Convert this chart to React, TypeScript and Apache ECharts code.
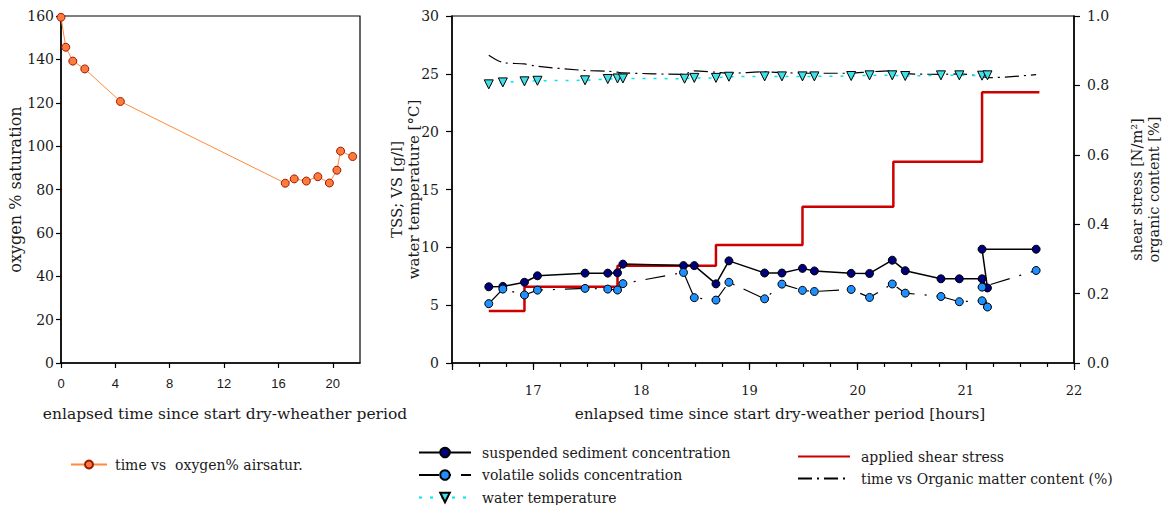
import React, { useEffect, useRef } from "react";
import * as echarts from "echarts";

// Oxygen saturation during the dry-weather period
const oxygenHours = [0, 0.35, 0.87, 1.75, 4.37, 16.5, 17.16, 18.05, 18.9, 19.75, 20.3, 20.57, 21.46];
const oxygenSaturation = [159.4, 145.6, 139.2, 135.6, 120.6, 82.9, 84.9, 83.9, 85.9, 83.0, 88.9, 97.7, 95.2];

// Erosion test samples (hours since start of dry-weather period)
const sampleHours = [
  16.59, 16.72, 16.92, 17.04, 17.48, 17.69, 17.78, 17.83, 18.39, 18.49, 18.69, 18.81, 19.14,
  19.3, 19.49, 19.6, 19.94, 20.11, 20.32, 20.44, 20.77, 20.94, 21.15, 21.2, 21.15, 21.65,
];
const tssValues = [
  6.59, 6.62, 6.98, 7.54, 7.77, 7.77, 7.8, 8.55, 8.42, 8.42, 6.84, 8.83, 7.78, 7.78, 8.18,
  7.96, 7.75, 7.74, 8.89, 7.98, 7.28, 7.28, 7.28, 6.49, 9.84, 9.84,
];
const vsValues = [
  5.13, 6.39, 5.88, 6.3, 6.45, 6.39, 6.31, 6.86, 7.83, 5.65, 5.44, 6.98, 5.55, 6.82, 6.28,
  6.18, 6.36, 5.67, 6.83, 6.04, 5.75, 5.3, 5.38, 4.84, 6.56, 8.0,
];

const temperatureHours = [
  16.59, 16.72, 16.92, 17.04, 17.48, 17.69, 17.78, 17.83, 18.4, 18.49, 18.69, 18.81, 19.14,
  19.3, 19.49, 19.6, 19.94, 20.11, 20.32, 20.44, 20.77, 20.94, 21.15, 21.2,
];
const temperatureValues = [
  24.09, 24.26, 24.35, 24.4, 24.44, 24.55, 24.6, 24.6, 24.58, 24.65, 24.65, 24.75, 24.78,
  24.78, 24.78, 24.78, 24.81, 24.87, 24.87, 24.81, 24.87, 24.87, 24.84, 24.87,
];

// Applied bed shear stress steps [N/m2]
const shearHours = [16.59, 16.92, 17.78, 18.69, 19.49, 20.33, 21.15, 21.68];
const shearValues = [0.15, 0.22, 0.28, 0.34, 0.45, 0.58, 0.78, 0.78];

// Organic matter content (fraction)
const organicHours = [
  16.59, 16.72, 16.92, 17.04, 17.48, 17.69, 17.78, 17.83, 18.39, 18.49, 18.69, 18.81, 19.14,
  19.3, 19.49, 19.6, 19.94, 20.11, 20.32, 20.44, 20.77, 20.94, 21.15, 21.2, 21.65,
];
const organicValues = [
  0.887, 0.866, 0.862, 0.855, 0.843, 0.841, 0.838, 0.836, 0.832, 0.842, 0.838, 0.835, 0.839,
  0.837, 0.835, 0.835, 0.835, 0.839, 0.842, 0.834, 0.832, 0.833, 0.826, 0.822, 0.831,
];

const SERIF = "DejaVu Serif";
const INK = "#1a1a1a";

const zip = (xs: number[], ys: number[]) => xs.map((x, i) => [x, ys[i]]);

const axisLineStyle = { show: true, lineStyle: { color: "#000", width: 1.5 } };
const tickStyle = (length: number) => ({
  show: true,
  inside: false,
  length,
  lineStyle: { color: "#000", width: 1.2 },
});
const legendText = { fontFamily: SERIF, fontSize: 14, color: INK, lineHeight: 17, padding: [0, 0, 0, 6] };

export default function App() {
  const ref = useRef<HTMLDivElement>(null);

  useEffect(() => {
    document.body.style.margin = "0";
    const chart = echarts.init(ref.current!, null, { renderer: "svg" });

    const option: any = {
      animation: false,
      backgroundColor: "#fff",
      textStyle: { fontFamily: SERIF, color: INK },
      grid: [
        {
          left: 61,
          top: 16,
          width: 299,
          height: 347,
          show: true,
          borderColor: "#000",
          borderWidth: 1.2,
          outerBoundsMode: "none",
          containLabel: false,
        },
        {
          left: 452,
          top: 16,
          width: 622,
          height: 347,
          show: true,
          borderColor: "#000",
          borderWidth: 1.2,
          outerBoundsMode: "none",
          containLabel: false,
        },
      ],
      xAxis: [
        {
          gridIndex: 0,
          type: "value",
          position: "bottom",
          min: 0,
          max: 22,
          interval: 4,
          axisLine: axisLineStyle,
          axisTick: tickStyle(5),
          axisLabel: {
            fontFamily: "Liberation Sans",
            fontSize: 13,
            color: INK,
            margin: 14,
            showMaxLabel: false,
            formatter: (v: number) => (v > 20 ? "" : String(v)),
          },
          splitLine: { show: false },
        },
        {
          gridIndex: 1,
          type: "value",
          position: "bottom",
          min: 16.25,
          max: 22,
          splitNumber: 5,
          axisLine: axisLineStyle,
          axisTick: tickStyle(7),
          axisLabel: {
            fontFamily: SERIF,
            fontSize: 13,
            color: INK,
            margin: 21,
            formatter: (v: number) => (Number.isInteger(v) ? String(v) : ""),
          },
          splitLine: { show: false },
        },
        {
          gridIndex: 1,
          type: "value",
          position: "bottom",
          min: 16.25,
          max: 22,
          interval: 0.25,
          axisLine: { show: false },
          axisTick: tickStyle(4),
          axisLabel: { show: false },
          splitLine: { show: false },
        },
      ],
      yAxis: [
        {
          gridIndex: 0,
          type: "value",
          position: "left",
          min: 0,
          max: 160,
          interval: 20,
          name: "oxygen % saturation",
          nameLocation: "middle",
          nameRotate: 90,
          nameGap: 35,
          nameTextStyle: { fontFamily: SERIF, fontSize: 16, color: INK },
          axisLine: axisLineStyle,
          axisTick: tickStyle(5),
          axisLabel: { fontFamily: SERIF, fontSize: 14, color: INK, margin: 7 },
          splitLine: { show: false },
        },
        {
          gridIndex: 1,
          type: "value",
          position: "left",
          min: 0,
          max: 30,
          interval: 5,
          name: "TSS; VS [g/l]\nwater temperature [°C]",
          nameLocation: "middle",
          nameRotate: 90,
          nameGap: 30,
          nameMoveOverlap: false,
          nameTextStyle: { fontFamily: SERIF, fontSize: 15, color: INK, lineHeight: 17 },
          axisLine: axisLineStyle,
          axisTick: tickStyle(6),
          axisLabel: { fontFamily: SERIF, fontSize: 14, color: INK, margin: 13 },
          splitLine: { show: false },
        },
        {
          gridIndex: 1,
          type: "value",
          position: "right",
          min: 0,
          max: 1,
          interval: 0.2,
          name: "shear stress [N/m²]\norganic content [%]",
          nameLocation: "middle",
          nameRotate: 90,
          nameGap: 54,
          nameMoveOverlap: false,
          nameTextStyle: { fontFamily: SERIF, fontSize: 14.5, color: INK, lineHeight: 17 },
          axisLine: axisLineStyle,
          axisTick: tickStyle(6),
          axisLabel: {
            fontFamily: SERIF,
            fontSize: 14,
            color: INK,
            margin: 13,
            formatter: (v: number) => v.toFixed(1),
          },
          splitLine: { show: false },
        },
      ],
      legend: [
        {
          data: ["time vs  oxygen% airsatur."],
          left: 70,
          top: 456,
          padding: 0,
          itemWidth: 36,
          itemHeight: 10,
          textStyle: { ...legendText, padding: [0, 0, 0, 3] },
        },
        {
          data: ["suspended sediment concentration", "volatile solids concentration", "water temperature"],
          orient: "vertical",
          left: 418,
          top: 444,
          height: 80,
          padding: 0,
          itemWidth: 52,
          itemHeight: 12,
          itemGap: 5.5,
          textStyle: legendText,
        },
        {
          data: [
            { name: "applied shear stress", itemStyle: { opacity: 0 } },
            { name: "time vs Organic matter content (%)", itemStyle: { opacity: 0 } },
          ],
          orient: "vertical",
          left: 797,
          top: 448,
          height: 60,
          padding: 0,
          itemWidth: 52,
          itemHeight: 12,
          itemGap: 5,
          textStyle: legendText,
        },
      ],
      graphic: [
        {
          type: "text",
          x: 225,
          y: 414,
          style: {
            text: "enlapsed time since start dry-wheather period",
            textAlign: "center",
            textVerticalAlign: "middle",
            font: `15.5px "${SERIF}"`,
            fill: INK,
          },
        },
        {
          type: "text",
          x: 780,
          y: 414,
          style: {
            text: "enlapsed time since start dry-weather period [hours]",
            textAlign: "center",
            textVerticalAlign: "middle",
            font: `15.3px "${SERIF}"`,
            fill: INK,
          },
        },
      ],
      series: [
        {
          name: "time vs  oxygen% airsatur.",
          type: "line",
          xAxisIndex: 0,
          yAxisIndex: 0,
          data: zip(oxygenHours, oxygenSaturation),
          symbol: "circle",
          symbolSize: 8,
          lineStyle: { color: "#FF8A3D", width: 1 },
          itemStyle: { color: "#FF7A3D", borderColor: "#9B1B00", borderWidth: 1 },
        },
        {
          name: "applied shear stress",
          type: "line",
          xAxisIndex: 1,
          yAxisIndex: 2,
          step: "end",
          data: zip(shearHours, shearValues),
          symbol: "none",
          lineStyle: { color: "#CC0000", width: 2.5 },
          itemStyle: { color: "#CC0000" },
        },
        {
          name: "time vs Organic matter content (%)",
          type: "line",
          xAxisIndex: 1,
          yAxisIndex: 2,
          smooth: 0.3,
          data: zip(organicHours, organicValues),
          symbol: "none",
          lineStyle: { color: "#000", width: 1.2, type: [14, 5, 2, 5] },
          itemStyle: { color: "#000" },
        },
        {
          name: "suspended sediment concentration",
          type: "line",
          xAxisIndex: 1,
          yAxisIndex: 1,
          data: zip(sampleHours, tssValues),
          symbol: "circle",
          symbolSize: 8,
          lineStyle: { color: "#000", width: 1.5 },
          itemStyle: { color: "#00007A", borderColor: "#000", borderWidth: 1 },
        },
        {
          name: "volatile solids concentration",
          type: "line",
          xAxisIndex: 1,
          yAxisIndex: 1,
          data: zip(sampleHours, vsValues),
          symbol: "circle",
          symbolSize: 8,
          lineStyle: { color: "#000", width: 1.2, type: [20, 10, 2, 10] },
          itemStyle: { color: "#1E90FF", borderColor: "#000", borderWidth: 1 },
        },
        {
          name: "water temperature",
          type: "line",
          xAxisIndex: 1,
          yAxisIndex: 1,
          data: zip(temperatureHours, temperatureValues),
          symbol: "triangle",
          symbolRotate: 180,
          symbolSize: 9,
          lineStyle: { color: "#00E5EE", width: 1.5, type: [3, 8] },
          itemStyle: { color: "#3FE0E8", borderColor: "#000", borderWidth: 1 },
        },
      ],
    };

    chart.setOption(option);
    return () => chart.dispose();
  }, []);

  return <div ref={ref} style={{ width: 1163, height: 505 }} />;
}
